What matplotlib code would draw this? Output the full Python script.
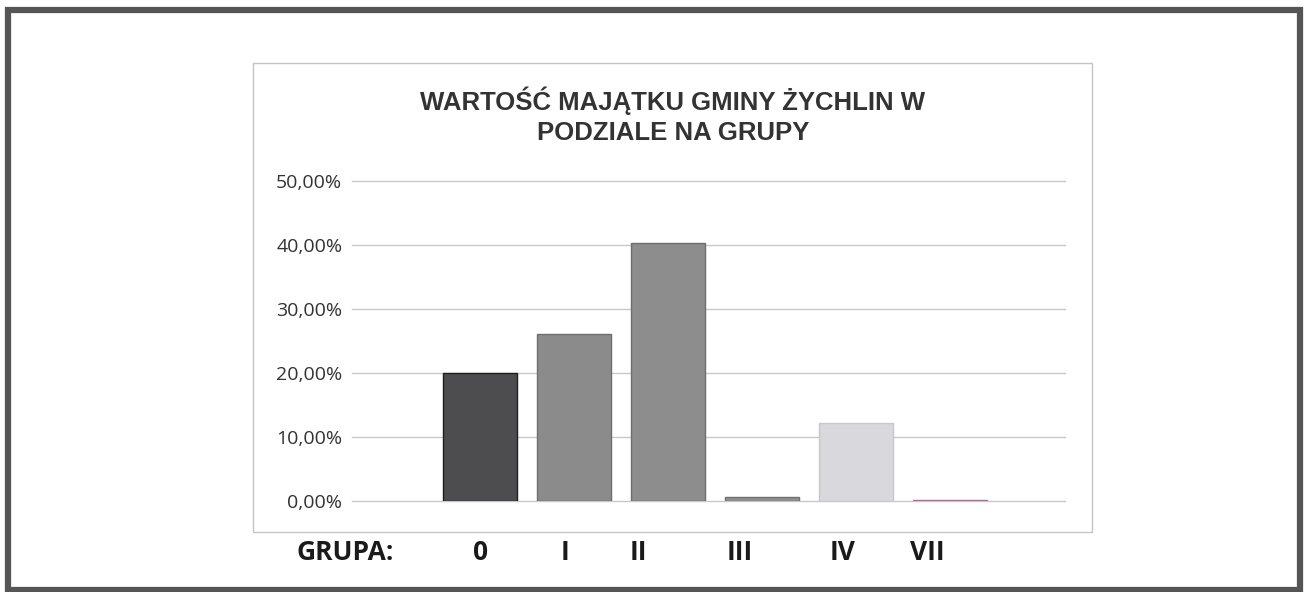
import numpy as np
import matplotlib.pyplot as plt
from matplotlib.patches import Rectangle

groups = ['0', 'I', 'II', 'III', 'IV', 'VII']
values = [20.0, 26.1, 40.3, 0.6, 12.2, 0.15]
bar_colors = ['#4d4d4f', '#8b8b8b', '#8d8d8d', '#909090', '#d9d9dd', '#8c8c8c']
edge_colors = ['#1e1e1e', '#6e6e6e', '#6e6e6e', '#707070', '#c8c8cc', '#a07090']
yticks = [0, 10, 20, 30, 40, 50]
label_x = [481, 565, 638, 740, 843, 927]

W, H = 1307, 592
fig = plt.figure(figsize=(W / 100, H / 100), dpi=100)
fig.patch.set_facecolor('white')

# outer frame of the page and the chart box
fig.patches.append(Rectangle((8 / W, 1 - 590 / H), 1292 / W, 580 / H, transform=fig.transFigure,
                             fill=False, edgecolor='#555555', linewidth=4.5))
fig.patches.append(Rectangle((253 / W, 1 - 532 / H), 839 / W, 469 / H, transform=fig.transFigure,
                             fill=False, edgecolor='#c4c4c4', linewidth=1.0))

ax = fig.add_axes([352 / W, 1 - 501 / H, 713 / W, 320 / H])
x = np.arange(len(groups))
ax.bar(x, values, width=0.79, color=bar_colors, edgecolor=edge_colors, linewidth=1.0, zorder=3)
ax.set_xlim(-1.36, 6.22)
ax.set_ylim(0, 50)
ax.set_yticks(yticks)
ax.set_yticklabels(['%d,00%%' % v for v in yticks], fontsize=14, family='Open Sans', color='#333333')
ax.set_xticks([])
ax.tick_params(axis='y', length=0, pad=7)
ax.yaxis.grid(True, color='#c8c8c8', linewidth=1.0, zorder=0)
for gl in ax.get_ygridlines():
    gl.set_clip_on(False)
for s in ax.spines.values():
    s.set_visible(False)

fig.text(673 / W, 1 - 116 / H, 'WARTOŚĆ MAJĄTKU GMINY ŻYCHLIN W\nPODZIALE NA GRUPY',
         ha='center', va='center', fontsize=18.5, family='Liberation Sans', fontweight='bold',
         color='#333333', linespacing=1.31)

fig.text(297 / W, 1 - 552 / H, 'GRUPA:', ha='left', va='center', fontsize=19,
         family='Open Sans', fontweight='bold', color='#1a1a1a')
for lx, g in zip(label_x, groups):
    fig.text(lx / W, 1 - 552 / H, g, ha='center', va='center', fontsize=19,
             family='Open Sans', fontweight='bold', color='#1a1a1a')

fig.savefig('out.png', dpi=100)
